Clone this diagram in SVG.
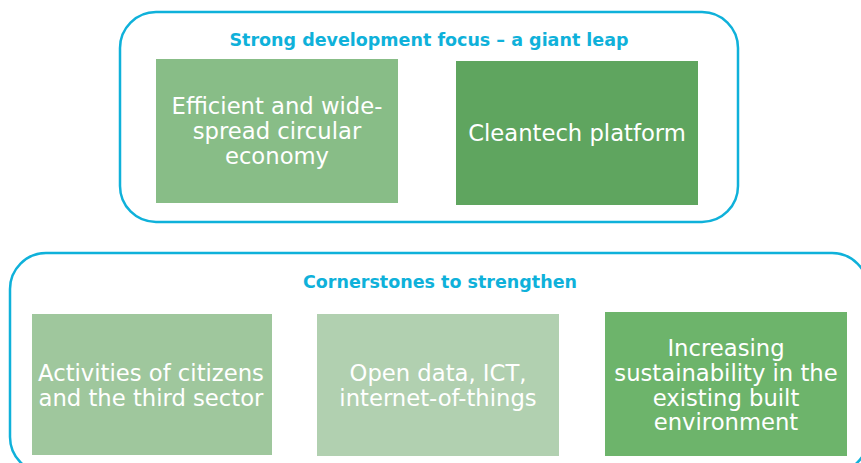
<svg xmlns="http://www.w3.org/2000/svg" width="861" height="463" viewBox="0 0 861 463">
  <style>
    .frame { fill: none; stroke: #0fb1da; stroke-width: 2.5; }
    .title { font-family: "DejaVu Sans", Verdana, sans-serif; font-weight: bold; font-size: 17.5px; fill: #0fb1da; text-anchor: middle; }
    .label { font-family: "DejaVu Sans", Verdana, sans-serif; font-size: 22.7px; fill: #ffffff; text-anchor: middle; }
  </style>
  <rect width="861" height="463" fill="#ffffff"/>

  <!-- Upper group: development focus -->
  <g id="focus-group">
    <rect class="frame" x="120" y="12" width="618" height="210" rx="36"/>
    <text class="title" x="429" y="46">Strong development focus – a giant leap</text>
  </g>
  <g id="circular-economy">
    <rect x="156" y="59" width="242" height="144" fill="#88bd87"/>
    <text class="label" x="277" y="114">Efficient and wide-</text>
    <text class="label" x="277" y="139">spread circular</text>
    <text class="label" x="277" y="164">economy</text>
  </g>
  <g id="cleantech">
    <rect x="456" y="61" width="242" height="144" fill="#5fa55f"/>
    <text class="label" x="577" y="141">Cleantech platform</text>
  </g>

  <!-- Lower group: cornerstones -->
  <g id="cornerstones-group">
    <rect class="frame" x="10" y="253" width="858" height="220" rx="36"/>
    <text class="title" x="440" y="288">Cornerstones to strengthen</text>
  </g>
  <g id="citizens">
    <rect x="32" y="314" width="240" height="141" fill="#9fc79d"/>
    <text class="label" x="151" y="381">Activities of citizens</text>
    <text class="label" x="151" y="406">and the third sector</text>
  </g>
  <g id="open-data">
    <rect x="317" y="314" width="242" height="142" fill="#b1d0b0"/>
    <text class="label" x="438" y="381">Open data, ICT,</text>
    <text class="label" x="438" y="406">internet-of-things</text>
  </g>
  <g id="built-environment">
    <rect x="605" y="312" width="242" height="144" fill="#6db46b"/>
    <text class="label" x="726" y="356">Increasing</text>
    <text class="label" x="726" y="381">sustainability in the</text>
    <text class="label" x="726" y="406">existing built</text>
    <text class="label" x="726" y="430">environment</text>
  </g>

  <g id="connectors"></g>
</svg>
